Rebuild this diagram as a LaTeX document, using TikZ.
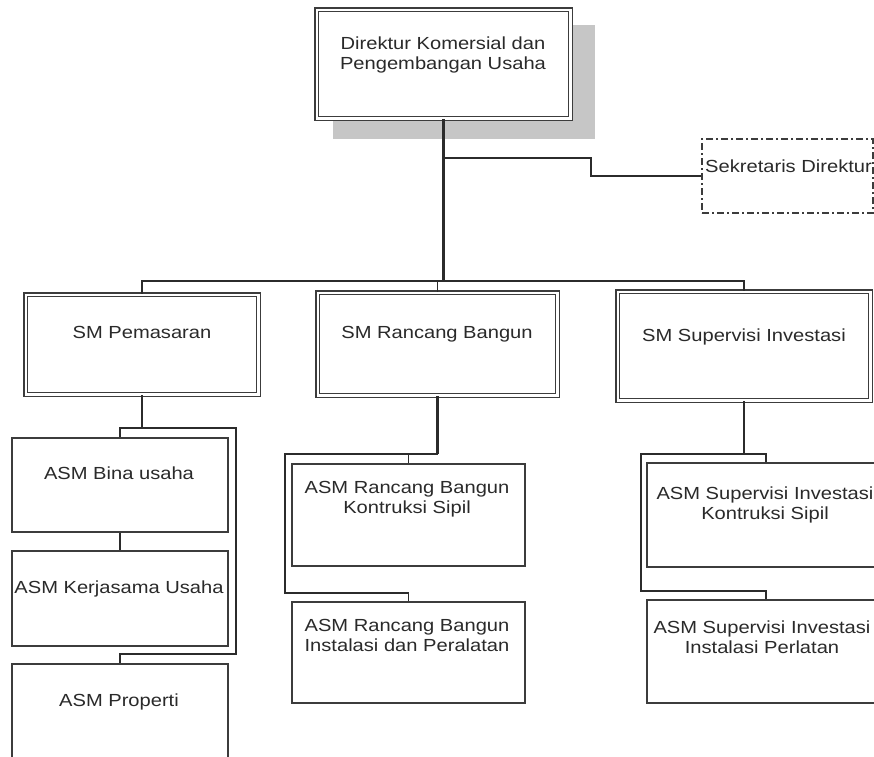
\documentclass[tikz,border=0pt]{standalone}
\usepackage{fontspec}
\setmainfont{Liberation Sans}[FakeStretch=1.15]
\definecolor{ln}{HTML}{2B2B2B}
\definecolor{bx}{HTML}{3C3C3C}
\definecolor{shd}{HTML}{C6C6C6}
\definecolor{tx}{HTML}{2A2A2A}
\newcommand{\twolines}[2]{\begin{tabular}[t]{@{}c@{}}#1\\#2\end{tabular}}
\begin{document}
\begin{tikzpicture}[x=1pt,y=-1pt,
  dbox/.style={draw=bx, line width=1.5pt, double=white, double distance=2.2pt, inner sep=0pt, fill=white},
  sbox/.style={draw=bx, line width=1.5pt, inner sep=0pt, fill=white},
  sekbox/.style={draw=bx, line width=1.5pt, inner sep=0pt, fill=white, dash pattern=on 7pt off 3pt on 2pt off 3pt},
  shadowbox/.style={fill=shd, inner sep=0pt},
  conn/.style={draw=ln, line width=1.7pt},
  trunk/.style={draw=ln, line width=2.7pt},
  txt/.style={anchor=base, inner sep=0pt, text=tx, font=\fontsize{17.5pt}{20.5pt}\selectfont}
]
\useasboundingbox (0,0) rectangle (874,756);

% boxes
\node[shadowbox, minimum width=262pt, minimum height=114pt] (dirsh) at (464,82) {};
\node[dbox, minimum width=253.8pt, minimum height=108.8pt] (dir) at (443.5,64) {};
\node[sekbox, minimum width=171pt, minimum height=74pt] (sek) at (787.5,176) {};

\node[dbox, minimum width=232.8pt, minimum height=99.8pt] (smp) at (142,344.5) {};
\node[dbox, minimum width=239.8pt, minimum height=102.8pt] (smr) at (437.5,344) {};
\node[dbox, minimum width=252.8pt, minimum height=108.8pt] (sms) at (744,346) {};

\node[sbox, minimum width=216pt, minimum height=94pt] (asm1) at (120,485) {};
\node[sbox, minimum width=216pt, minimum height=95pt] (asm2) at (120,598.5) {};
\node[sbox, minimum width=216pt, minimum height=126pt] (asm3) at (120,727) {};

\node[sbox, minimum width=233pt, minimum height=102pt] (rb1) at (408.5,515) {};
\node[sbox, minimum width=233pt, minimum height=101pt] (rb2) at (408.5,652.5) {};

\node[sbox, minimum width=238pt, minimum height=104pt] (si1) at (766,515) {};
\node[sbox, minimum width=238pt, minimum height=103pt] (si2) at (766,651.5) {};

% connectors: top
\coordinate (s1) at (591,158);
\coordinate (bus) at (443.5,281);
\draw[trunk] (dir.south) -- (bus);
\draw[conn] (dir.south |- s1) -- (s1) |- (sek.west);
\draw[conn] (smp.north) |- (bus) -| (sms.north);
\draw[conn] (smr.north) -- (smr.north |- bus);

% Pemasaran
\coordinate (pj) at (142,428);
\coordinate (pr1) at (236,428);
\coordinate (pr2) at (236,654);
\draw[trunk] (smp.south) -- (pj);
\draw[conn] (asm1.north) |- (pr1) -- (pr2) -| (asm3.north);
\draw[conn] (asm1.south) -- (asm2.north);

% Rancang Bangun
\coordinate (rj) at (437.5,454);
\coordinate (rl1) at (285,454);
\coordinate (rl2) at (285,593);
\draw[trunk] (smr.south) -- (rj);
\draw[conn] (rj) -- (rl1) -- (rl2) -| (rb2.north);
\draw[conn] (rb1.north) -- (rb1.north |- rj);

% Supervisi
\coordinate (sj) at (744,454);
\coordinate (sl1) at (641,454);
\coordinate (sl2) at (641,591);
\draw[trunk] (sms.south) -- (sj);
\draw[conn] (si1.north) |- (sl1) -- (sl2) -| (si2.north);

% texts
\node[txt] (dirT) at (443,49) {\twolines{Direktur Komersial dan}{Pengembangan Usaha}};
\node[txt, anchor=base west] (sekT) at (705,172) {Sekretaris Direktur};
\node[txt] (smpT) at (142,338) {SM Pemasaran};
\node[txt] (smrT) at (437,338) {SM Rancang Bangun};
\node[txt] (smsT) at (744,341) {SM Supervisi Investasi};
\node[txt] (asm1T) at (119,479) {ASM Bina usaha};
\node[txt] (asm2T) at (119,593) {ASM Kerjasama Usaha};
\node[txt] (asm3T) at (119,706) {ASM Properti};
\node[txt] (rb1T) at (407,493) {\twolines{ASM Rancang Bangun}{Kontruksi Sipil}};
\node[txt] (rb2T) at (407,631) {\twolines{ASM Rancang Bangun}{Instalasi dan Peralatan}};
\node[txt] (si1T) at (765,499) {\twolines{ASM Supervisi Investasi}{Kontruksi Sipil}};
\node[txt] (si2T) at (762,633) {\twolines{ASM Supervisi Investasi}{Instalasi Perlatan}};
\end{tikzpicture}
\end{document}
